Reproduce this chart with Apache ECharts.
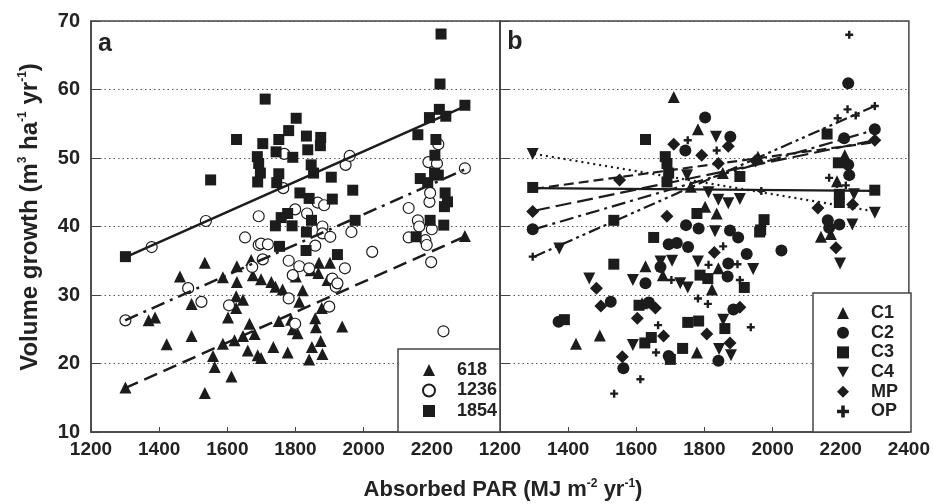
<!DOCTYPE html>
<html>
<head>
<meta charset="UTF-8">
<script src="https://cdn.jsdelivr.net/npm/echarts@6/dist/echarts.min.js"></script>
<style>html,body{margin:0;padding:0;background:#fff}</style>
</head>
<body>
<div id="main" style="width:933px;height:504px;"></div>
<script>
// panel a: density groups
var a618 = [[1301,16.5],[1369,26.3],[1388,26.7],[1422,22.8],[1461,32.7],[1495,28.7],[1495,24.0],[1534,34.7],[1534,15.7],[1558,21.1],[1563,19.5],[1587,32.6],[1587,22.9],[1602,26.7],[1612,18.1],[1621,23.4],[1626,29.8],[1626,28.1],[1628,34.2],[1628,31.9],[1646,29.3],[1646,24.0],[1660,21.9],[1665,25.8],[1670,35.1],[1675,32.9],[1680,24.3],[1689,21.2],[1699,32.3],[1699,20.8],[1729,31.9],[1735,22.4],[1741,31.2],[1751,26.2],[1762,30.8],[1777,21.6],[1787,26.4],[1792,25.0],[1801,32.7],[1806,24.4],[1811,29.0],[1821,30.7],[1840,20.6],[1845,33.6],[1848,22.4],[1858,26.6],[1860,25.3],[1867,33.2],[1869,34.7],[1874,23.3],[1877,28.1],[1879,21.4],[1894,32.2],[1901,34.7],[1937,25.4],[2297,38.6]];
var a1236 = [[1301,26.3],[1378,37.0],[1485,31.0],[1524,29.0],[1537,40.8],[1605,28.5],[1652,38.4],[1673,34.1],[1692,41.5],[1692,37.3],[1699,37.5],[1704,35.2],[1719,37.4],[1764,45.6],[1767,50.6],[1780,35.0],[1780,29.5],[1792,32.9],[1799,42.5],[1799,25.8],[1811,34.2],[1834,41.9],[1840,33.9],[1858,37.2],[1865,43.5],[1879,40.0],[1884,43.1],[1879,39.0],[1899,28.3],[1902,38.5],[1908,32.4],[1918,31.2],[1923,31.7],[1945,33.9],[1947,49.0],[1959,50.3],[1964,39.2],[2025,36.3],[2132,42.7],[2132,38.4],[2159,40.9],[2163,40.0],[2181,38.0],[2185,37.3],[2190,49.4],[2193,43.6],[2195,44.9],[2198,34.8],[2200,39.6],[2215,49.2],[2219,52.0],[2234,24.7],[2297,48.5]];
var a1854 = [[1301,35.6],[1551,46.8],[1627,52.7],[1688,50.2],[1692,49.2],[1697,47.8],[1689,46.5],[1704,52.1],[1711,58.6],[1743,50.9],[1745,46.4],[1751,52.7],[1751,47.7],[1741,40.1],[1753,37.1],[1758,41.3],[1777,41.9],[1780,54.0],[1790,40.1],[1792,50.1],[1802,55.8],[1813,44.9],[1831,36.5],[1832,53.2],[1832,39.2],[1836,51.2],[1840,44.1],[1846,49.0],[1847,40.9],[1853,47.8],[1873,51.8],[1874,53.0],[1905,47.2],[1908,44.0],[1923,35.9],[1968,45.3],[1975,40.9],[2154,38.5],[2159,53.4],[2166,47.0],[2188,46.4],[2193,55.9],[2195,40.9],[2208,47.8],[2209,50.4],[2212,52.7],[2219,47.5],[2222,57.1],[2224,60.8],[2227,68.1],[2235,40.2],[2237,42.9],[2239,44.9],[2241,56.1],[2246,43.6],[2297,57.7]];
var fitA618 = [[1300,16.4],[2300,38.6]];
var fitA1236 = [[1300,26.3],[2300,48.4]];
var fitA1854 = [[1300,35.5],[2300,57.6]];

// panel b: clones
var bC1 = [[1423,22.9],[1493,24.1],[1617,28.8],[1627,34.2],[1678,32.9],[1710,58.9],[1760,45.8],[1778,21.6],[1781,54.2],[1802,42.9],[1822,30.8],[1836,41.9],[1841,33.9],[1854,47.8],[1957,50.2],[2142,38.5],[2171,38.9],[2189,46.6],[2212,50.4]];
var bC2 = [[1296,39.6],[2222,60.9],[1802,55.9],[1876,53.1],[1744,51.1],[2210,52.9],[2300,54.2],[2222,49.0],[2225,47.5],[1746,40.2],[1783,39.7],[1875,39.4],[1899,38.4],[2162,40.9],[2196,40.3],[2166,39.8],[1695,37.4],[1719,37.6],[1752,37.0],[2026,36.5],[1924,36.0],[1671,34.1],[1870,34.6],[1627,31.7],[1868,32.7],[1525,29.0],[1637,28.9],[1372,26.1],[1885,27.9],[1695,21.1],[1841,20.4],[1562,19.3]];
var bC3 = [[1296,45.7],[1627,52.7],[1685,50.2],[1690,49.2],[1695,47.8],[1690,46.5],[1904,47.3],[1534,40.9],[1778,41.9],[1975,41.0],[1965,39.5],[1651,38.4],[2160,53.5],[2193,49.3],[2300,45.3],[2196,44.7],[2196,43.5],[1962,39.2],[1534,34.5],[1787,32.9],[1810,32.4],[1917,31.1],[1608,28.5],[1389,26.4],[1751,26.0],[1783,26.2],[1860,25.1],[1625,23.0],[1644,23.8],[1736,22.2],[1700,20.6]];
var bC4 = [[1296,50.6],[1834,53.1],[1749,47.5],[1812,45.0],[1841,43.9],[1870,43.4],[1904,44.0],[1831,39.3],[2239,44.7],[2300,42.0],[2234,40.3],[2198,34.6],[1374,36.8],[1671,34.9],[1705,35.0],[1781,34.9],[1943,33.8],[1462,32.4],[1590,32.2],[1729,31.7],[1751,31.1],[1855,26.4],[1590,22.7],[1843,22.1],[1878,21.2]];
var bMP = [[1296,42.2],[1870,51.7],[1710,52.0],[1792,50.4],[1841,49.2],[1551,46.8],[1690,41.5],[2133,42.7],[2235,43.2],[2300,52.6],[1950,49.6],[2186,36.9],[1829,36.2],[1483,31.0],[1496,28.4],[1656,28.1],[1603,26.6],[1680,24.0],[1807,24.3],[1904,28.2],[1875,23.0],[1559,21.0]];
var bOP = [[1296,35.6],[2225,68.0],[1751,52.6],[1836,51.1],[1967,45.2],[2220,57.1],[2191,55.8],[2244,56.2],[2300,57.6],[2166,47.1],[2189,46.2],[2215,46.0],[1855,37.1],[1812,34.4],[1897,34.5],[1703,32.2],[1904,32.2],[1781,29.5],[1810,28.7],[1664,25.6],[1936,25.3],[1658,21.6],[1612,17.7],[1535,15.6]];
var fitC1 = [[1300,45.5],[2300,52.3]];
var fitC2 = [[1300,39.6],[2300,54.1]];
var fitC3 = [[1300,45.6],[2300,45.2]];
var fitC4 = [[1300,50.6],[2300,42.2]];
var fitMP = [[1300,42.3],[2300,52.6]];
var fitOP = [[1300,35.6],[2300,57.6]];

var xTicks = [1200, 1400, 1600, 1800, 2000, 2200, 2400];
var yTicks = [10, 20, 30, 40, 50, 60, 70];

var INK = '#1c1c1c';
var FONT = '"Liberation Sans", Arial, sans-serif';
var downTri = 'path://M0,0L10,0L5,9Z';
var plus = 'path://M3.5,0H6.5V3.5H10V6.5H6.5V10H3.5V6.5H0V3.5H3.5Z';

var chart = echarts.init(document.getElementById('main'));

function xAxisFor(gi, hideLast) {
    return {
        gridIndex: gi, type: 'value', min: xTicks[0], max: xTicks[xTicks.length - 1], interval: 200,
        axisLine: { show: true, onZero: false, lineStyle: { color: '#444', width: 1.5 } },
        axisTick: { show: true, inside: true, length: 5, lineStyle: { color: '#444' } },
        axisLabel: {
            margin: 8, color: '#222', fontFamily: FONT, fontWeight: 'bold', fontSize: 19,
            formatter: function (v) { return (hideLast && v === 2400) ? '' : v; }
        },
        splitLine: { show: false }
    };
}
function yAxisFor(gi, showLabels) {
    return {
        gridIndex: gi, type: 'value', min: yTicks[0], max: yTicks[yTicks.length - 1], interval: 10,
        axisLine: { show: true, lineStyle: { color: '#444', width: 1.5 } },
        axisTick: { show: true, inside: true, length: 9, lineStyle: { color: '#444' } },
        axisLabel: { show: showLabels, margin: 11, color: '#222', fontFamily: FONT, fontWeight: 'bold', fontSize: 20 },
        splitLine: { show: true, lineStyle: { color: '#555', type: [1.5, 3], width: 1 } }
    };
}
function dots(name, data, gi, symbol, size, hollow) {
    return {
        name: name, type: 'scatter', xAxisIndex: gi, yAxisIndex: gi, data: data,
        symbol: symbol, symbolSize: size,
        itemStyle: hollow ? { color: '#fff', borderColor: INK, borderWidth: 1.2, opacity: 1 }
                          : { color: INK, opacity: 1 },
        z: 3
    };
}
function fit(data, gi, type, width) {
    return {
        type: 'line', xAxisIndex: gi, yAxisIndex: gi, data: data, showSymbol: false, symbol: 'none',
        lineStyle: { color: INK, width: width || 2.5, type: type }, z: 5, silent: true
    };
}

var sup = { fontSize: 12, fontWeight: 'bold', fontFamily: FONT, verticalAlign: 'top', lineHeight: 12, fill: '#222' };
var legendText = { fontFamily: FONT, fontWeight: 'bold', fontSize: 18, color: '#222', lineHeight: 18, padding: [0, 0, 0, 17] };

chart.setOption({
    animation: false,
    grid: [
        { left: 91, top: 21, width: 409, height: 411, show: true, borderColor: '#444', borderWidth: 1.5 },
        { left: 500, top: 21, width: 411, height: 411, show: true, borderColor: '#444', borderWidth: 1.5 }
    ],
    xAxis: [xAxisFor(0, true), xAxisFor(1, false)],
    yAxis: [yAxisFor(0, true), yAxisFor(1, false)],
    legend: [
        {
            data: ['618', '1236', '1854'], orient: 'vertical', left: 422, top: 361, z: 20, padding: 0,
            itemWidth: 12, itemHeight: 12, itemGap: 2.5, selectedMode: false, textStyle: legendText
        },
        {
            data: ['C1', 'C2', 'C3', 'C4', 'MP', 'OP'], orient: 'vertical', left: 837, top: 304, z: 20, padding: 0,
            itemWidth: 12, itemHeight: 12, itemGap: 1.7, selectedMode: false, textStyle: legendText
        }
    ],
    graphic: [
        { type: 'rect', shape: { x: 398, y: 349, width: 102, height: 83 }, style: { fill: '#fff', stroke: '#444', lineWidth: 1.5 }, z: 6 },
        { type: 'rect', shape: { x: 813, y: 293, width: 98, height: 139 }, style: { fill: '#fff', stroke: '#444', lineWidth: 1.5 }, z: 6 },
        { type: 'text', x: 105, y: 44, style: { text: 'a', fontFamily: FONT, fontWeight: 'bold', fontSize: 25, fill: '#222', align: 'center', verticalAlign: 'middle' }, z: 10 },
        { type: 'text', x: 515, y: 42, style: { text: 'b', fontFamily: FONT, fontWeight: 'bold', fontSize: 25, fill: '#222', align: 'center', verticalAlign: 'middle' }, z: 10 },
        {
            type: 'text', x: 503, y: 490, z: 10,
            style: {
                text: 'Absorbed PAR (MJ m{s|-2} yr{s|-1})', fontFamily: FONT, fontWeight: 'bold', fontSize: 22, fill: '#222',
                align: 'center', verticalAlign: 'middle', lineHeight: 24, rich: { s: sup }
            }
        },
        {
            type: 'text', x: 30, y: 217, rotation: Math.PI / 2, z: 10,
            style: {
                text: 'Volume growth (m{s|3} ha{s|-1} yr{s|-1})', fontFamily: FONT, fontWeight: 'bold', fontSize: 24, fill: '#222',
                align: 'center', verticalAlign: 'middle', lineHeight: 26, rich: { s: sup }
            }
        }
    ],
    series: [
        dots('618', a618, 0, 'triangle', 12, false),
        dots('1236', a1236, 0, 'circle', 11, true),
        dots('1854', a1854, 0, 'rect', 11, false),
        fit(fitA618, 0, [14, 7]),
        fit(fitA1236, 0, [14, 6, 3, 6]),
        fit(fitA1854, 0, 'solid'),
        dots('C1', bC1, 1, 'triangle', 12, false),
        dots('C2', bC2, 1, 'circle', 12, false),
        dots('C3', bC3, 1, 'rect', 11, false),
        dots('C4', bC4, 1, downTri, 12, false),
        dots('MP', bMP, 1, 'diamond', 13, false),
        dots('OP', bOP, 1, plus, 8, false),
        fit(fitC1, 1, [10, 5], 2.2),
        fit(fitC2, 1, [14, 5, 3, 5], 2.2),
        fit(fitC3, 1, 'solid', 2.2),
        fit(fitC4, 1, [2, 4], 2.2),
        fit(fitMP, 1, [16, 6], 2.2),
        fit(fitOP, 1, [12, 4, 3, 4, 3, 4], 2.2)
    ]
});
</script>
</body>
</html>
